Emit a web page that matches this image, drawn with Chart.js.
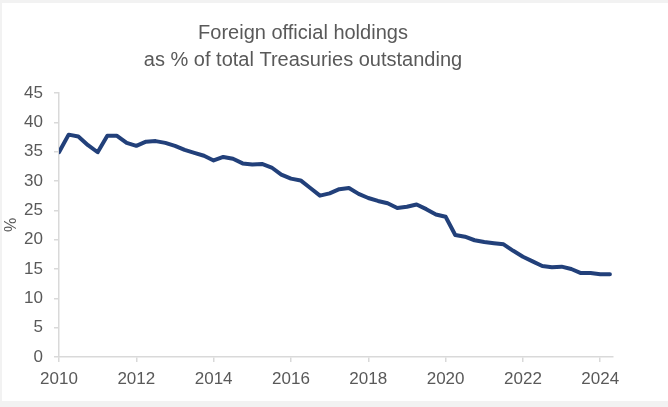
<!DOCTYPE html>
<html lang="en">
<head>
    <meta charset="UTF-8">
    <title>Foreign official holdings</title>
    <script src="https://cdn.jsdelivr.net/npm/chart.js"></script>
    <style>
        html, body {
            margin: 0;
            padding: 0;
            background: #f2f2f2;
        }
        #card {
            position: absolute;
            left: 2px;
            top: 3px;
            width: 666px;
            height: 398px;
            background: #ffffff;
        }
    </style>
</head>
<body>
    <div id="card">
        <canvas id="holdingsChart" width="666" height="398"></canvas>
    </div>

    <script>
        // quarterly readings, first quarter of 2010 to second quarter of 2024
        const firstYear = 2010;
        const holdings = [
            34.9, 37.9, 37.6, 36.1,   // 2010
            34.9, 37.7, 37.7, 36.5,   // 2011
            36.0, 36.7, 36.8, 36.5,   // 2012
            36.0, 35.3, 34.8, 34.3,   // 2013
            33.5, 34.1, 33.8, 33.0,   // 2014
            32.8, 32.9, 32.3, 31.1,   // 2015
            30.4, 30.1, 28.8, 27.5,   // 2016
            27.9, 28.6, 28.8, 27.8,   // 2017
            27.1, 26.6, 26.2, 25.4,   // 2018
            25.6, 26.0, 25.2, 24.3,   // 2019
            23.9, 20.8, 20.5, 19.9,   // 2020
            19.6, 19.4, 19.2, 18.1,   // 2021
            17.1, 16.3, 15.5, 15.3,   // 2022
            15.4, 15.0, 14.3, 14.3,   // 2023
            14.1, 14.1                // 2024
        ];
        const titleLines = ["Foreign official holdings", "as % of total Treasuries outstanding"];

        const points = holdings.map((v, i) => ({ x: firstYear + i / 4, y: v }));

        const textGrey = "#595959";
        const axisGrey = "#d9d9d9";
        const fontFamily = "'Liberation Sans', Arial, sans-serif";

        // title is offset to the left of the canvas centre, so draw it ourselves
        const titlePlugin = {
            id: "offsetTitle",
            afterDraw(chart) {
                const ctx = chart.ctx;
                ctx.save();
                ctx.fillStyle = textGrey;
                ctx.font = "20px " + fontFamily;
                ctx.textAlign = "center";
                ctx.textBaseline = "middle";
                ctx.fillText(titleLines[0], 301, 30);
                ctx.fillText(titleLines[1], 301, 57);
                ctx.restore();
            }
        };

        new Chart(document.getElementById("holdingsChart"), {
            type: "line",
            data: {
                datasets: [{
                    data: points,
                    borderColor: "#22407a",
                    borderWidth: 4,
                    pointRadius: 0,
                    borderJoinStyle: "round",
                    borderCapStyle: "round",
                    tension: 0
                }]
            },
            options: {
                responsive: false,
                animation: false,
                layout: {
                    padding: { top: 90, right: 55, left: 0, bottom: 0 }
                },
                plugins: {
                    legend: { display: false },
                    tooltip: { enabled: false }
                },
                scales: {
                    x: {
                        type: "linear",
                        min: 2010,
                        max: 2024.33,
                        afterFit(scale) { scale.height = 44; },
                        border: { color: axisGrey, width: 1.5 },
                        grid: {
                            drawOnChartArea: false,
                            drawTicks: true,
                            tickLength: 5,
                            color: axisGrey,
                            lineWidth: 1.5
                        },
                        ticks: {
                            stepSize: 2,
                            includeBounds: false,
                            maxRotation: 0,
                            padding: 7,
                            color: textGrey,
                            font: { family: fontFamily, size: 17 },
                            callback: v => String(v)
                        }
                    },
                    y: {
                        min: 0,
                        max: 45,
                        afterFit(scale) { scale.width = 57; },
                        border: { color: axisGrey, width: 1.5 },
                        grid: {
                            drawOnChartArea: false,
                            drawTicks: true,
                            tickLength: 5,
                            color: axisGrey,
                            lineWidth: 1.5
                        },
                        ticks: {
                            stepSize: 5,
                            padding: 11,
                            color: textGrey,
                            font: { family: fontFamily, size: 17 }
                        },
                        title: {
                            display: true,
                            text: "%",
                            color: textGrey,
                            padding: 0,
                            font: { family: fontFamily, size: 16 }
                        }
                    }
                }
            },
            plugins: [titlePlugin]
        });
    </script>
</body>
</html>
